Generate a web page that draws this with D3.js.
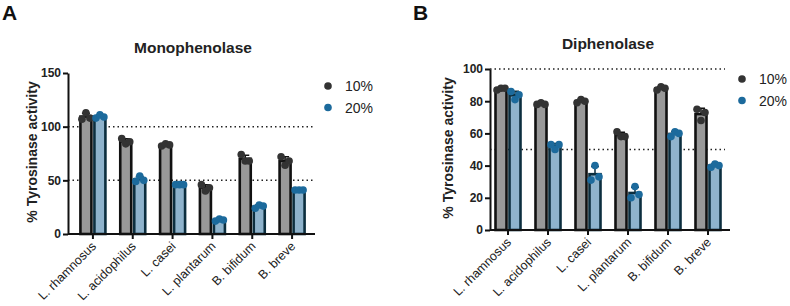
<!DOCTYPE html>
<html>
<head>
<meta charset="utf-8">
<script src="https://cdn.jsdelivr.net/npm/d3@7"></script>
<style>
  body { margin: 0; background: #fff; }
  svg { font-family: "Liberation Sans", Arial, sans-serif; }
</style>
</head>
<body>
<svg id="chart" width="790" height="306"></svg>
<script>
// Tyrosinase activity, two panels, 3 replicates per bar (left, center, right)

const categories = ["L. rhamnosus", "L. acidophilus", "L. casei", "L. plantarum", "B. bifidum", "B. breve"];
const seriesNames = ["10%", "20%"];

const monoTicks = [0, 50, 100, 150];
const mono10 = [[107, 113, 108], [89, 84, 86], [82, 84, 83], [46, 40, 43], [74, 68, 68], [72, 64, 68]];
const mono20 = [[108, 111, 109], [49, 54, 50], [46, 46, 46], [12, 14, 13], [24, 27, 26], [41, 41, 41]];
const monoRefs = [100, 50];

const diTicks = [0, 20, 40, 60, 80, 100];
const di10 = [[87, 88, 88], [78, 79, 78], [79, 81, 80], [61, 58, 58], [87, 89, 88], [75, 68, 73]];
const di20 = [[86, 81, 84], [53, 50, 53], [31, 40, 33], [20, 27, 22], [58, 61, 60], [39, 41, 40]];
const diRefs = [100, 50];

const svg = d3.select("#chart");

const fills = ["#999999", "#8fb3cc"];
const strokes = ["#111111", "#0c2e3e"];
const dotCols = ["#333333", "#1c6a9c"];

function panel(o) {
  const g = svg.append("g");
  const x = d3.scaleBand().domain(categories).range(o.xr);
  const y = d3.scaleLinear().domain(o.domain).range(o.yr);
  const ax0 = o.axisX, axEnd = o.axisEnd;

  // reference dotted lines
  g.selectAll(".ref").data(o.refs).enter().append("line")
    .attr("x1", ax0).attr("x2", o.refEnd)
    .attr("y1", d => y(d)).attr("y2", d => y(d))
    .attr("stroke", "#222").attr("stroke-width", 1.5)
    .attr("stroke-dasharray", "1.5 3");

  const series = [o.s10, o.s20];
  series.forEach((s, si) => {
    const rows = s.map((reps, i) => ({cat: categories[i], reps, mean: d3.mean(reps), sd: d3.deviation(reps)}));
    const off = si === 0 ? -12.5 : 1.5;
    const bw = 11;
    const grp = g.append("g");
    // error bars (upper)
    grp.selectAll(".err").data(rows).enter().append("path")
      .attr("d", d => {
        const cx = x(d.cat) + x.bandwidth() / 2 + off + bw / 2;
        const yt = y(d.mean + d.sd), yb = y(d.mean);
        return `M${cx},${yb}V${yt}M${cx - 4},${yt}H${cx + 4}`;
      })
      .attr("stroke", strokes[si]).attr("stroke-width", 1.5).attr("fill", "none");
    grp.selectAll(".bar").data(rows).enter().append("rect")
      .attr("x", d => x(d.cat) + x.bandwidth() / 2 + off)
      .attr("y", d => y(d.mean))
      .attr("width", bw)
      .attr("height", d => y(0) - y(d.mean))
      .attr("fill", fills[si])
      .attr("stroke", strokes[si]).attr("stroke-width", 2.6);
    // replicate points
    const pts = [];
    rows.forEach(d => d.reps.forEach((v, k) => pts.push({cat: d.cat, v, k})));
    grp.selectAll(".pt").data(pts).enter().append("circle")
      .attr("cx", d => x(d.cat) + x.bandwidth() / 2 + off + bw / 2 + (d.k - 1) * 4)
      .attr("cy", d => y(d.v))
      .attr("r", 3.8)
      .attr("fill", dotCols[si]);
  });

  // y axis
  const ya = g.append("g").attr("transform", `translate(${ax0},0)`)
    .call(d3.axisLeft(y).tickValues(o.ticks).tickSize(5).tickSizeOuter(0));
  ya.select(".domain").attr("stroke", "#111").attr("stroke-width", 2);
  ya.selectAll(".tick line").attr("stroke", "#111").attr("stroke-width", 2);
  ya.selectAll(".tick text").attr("font-size", 12).attr("font-weight", "bold")
    .attr("fill", "#222").attr("x", -7);

  // x axis
  const xa = g.append("g").attr("transform", `translate(0,${y(0)})`)
    .call(d3.axisBottom(x).tickSize(5).tickSizeOuter(0));
  xa.select(".domain").remove();
  xa.append("line").attr("x1", ax0).attr("x2", axEnd).attr("stroke", "#111").attr("stroke-width", 2);
  xa.selectAll(".tick line").attr("stroke", "#111").attr("stroke-width", 2);
  xa.selectAll(".tick text")
    .attr("text-anchor", "end")
    .attr("font-size", 12.5)
    .attr("fill", "#222")
    .attr("x", 0).attr("y", 0).attr("dy", null)
    .attr("transform", "translate(4,13) rotate(-45)");

  // y label
  g.append("text")
    .attr("transform", `translate(${o.ylabX},${o.ylabY}) rotate(-90)`)
    .attr("text-anchor", "middle").attr("font-size", 14).attr("font-weight", "bold")
    .attr("fill", "#222").text("% Tyrosinase activity");

  // title and letter
  g.append("text").attr("x", o.titleX).attr("y", o.titleY)
    .attr("text-anchor", "middle").attr("font-size", 15.5).attr("font-weight", "bold")
    .attr("fill", "#222").text(o.title);
  g.append("text").attr("x", o.letterX).attr("y", 20)
    .attr("font-size", 21).attr("font-weight", "bold").attr("fill", "#111").text(o.letter);

  // legend
  seriesNames.forEach((n, i) => {
    g.append("circle").attr("cx", o.legX).attr("cy", o.legY + i * 21.5).attr("r", 3.8).attr("fill", dotCols[i]);
    g.append("text").attr("x", o.legX + 17).attr("y", o.legY + i * 21.5 + 5)
      .attr("font-size", 14).attr("fill", "#222").text(n);
  });
}

panel({
  s10: mono10, s20: mono20, refs: monoRefs, ticks: monoTicks,
  domain: [0, 150], yr: [234, 73], xr: [73, 312],
  axisX: 68, axisEnd: 315, refEnd: 315,
  ylabX: 37, ylabY: 152, title: "Monophenolase", titleX: 193, titleY: 53,
  letter: "A", letterX: 2, legX: 328, legY: 86
});

panel({
  s10: di10, s20: di20, refs: diRefs, ticks: diTicks,
  domain: [0, 100], yr: [230, 69], xr: [488, 728],
  axisX: 490, axisEnd: 730, refEnd: 725,
  ylabX: 453, ylabY: 148, title: "Diphenolase", titleX: 608, titleY: 49,
  letter: "B", letterX: 413, legX: 742, legY: 79
});
</script>
</body>
</html>
